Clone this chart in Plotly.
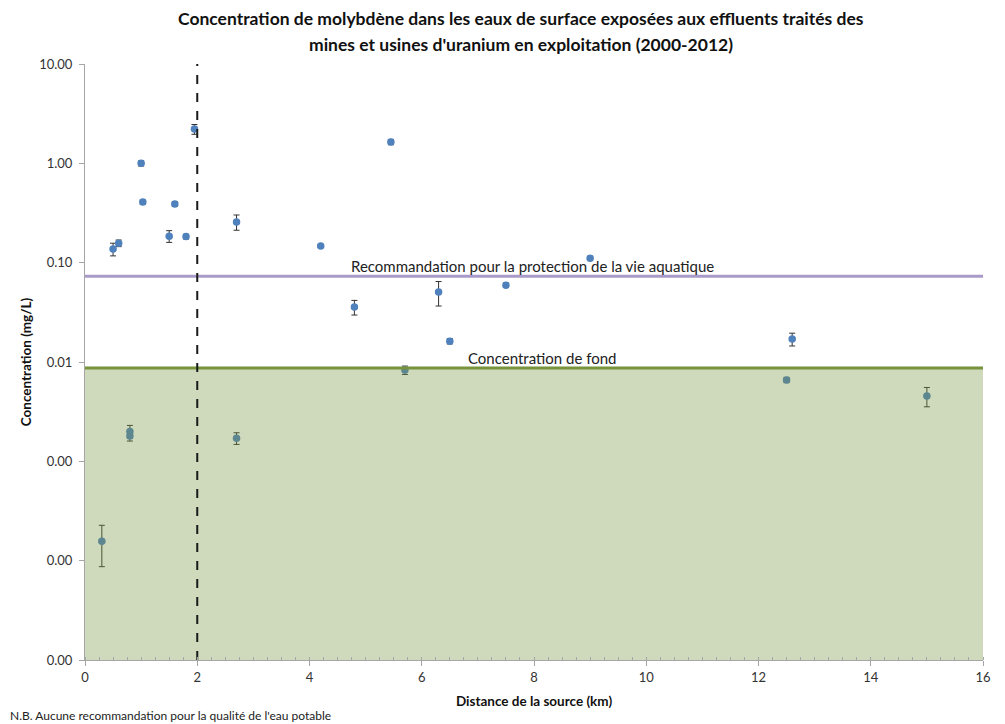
import numpy as np
import plotly.graph_objects as go

# Data
distance_km = [0.3, 0.5, 0.6, 0.8, 0.8, 1.0, 1.03, 1.5, 1.6, 1.8, 1.95, 2.7, 2.7,
               4.2, 4.8, 5.45, 5.7, 6.3, 6.5, 7.5, 9.0, 12.5, 12.6, 15.0]
concentration = [0.000157, 0.137, 0.157, 0.0020, 0.0018, 1.0, 0.407, 0.185, 0.39,
                 0.183, 2.21, 0.257, 0.00171, 0.147, 0.0357, 1.64, 0.0083, 0.0506,
                 0.0162, 0.0594, 0.111, 0.0066, 0.017, 0.00454]
error = [0.00007, 0.02, 0.012, 0.0003, 0.0002, 0.06, 0.02, 0.025, 0.02, 0.01, 0.25,
         0.045, 0.00023, 0.005, 0.006, 0.1, 0.0008, 0.014, 0.001, 0.003, 0.005,
         0.0004, 0.0025, 0.001]

guideline_aquatic = 0.073
background_conc = 0.0087
x_limits = [0, 16]
y_limits = [0.00001, 10]
distance_cutoff = 2

y_tickvals = [10, 1, 0.1, 0.01, 0.001, 0.0001, 0.00001]
y_ticktext = ["10.00", "1.00", "0.10", "0.01", "0.00", "0.00", "0.00"]
x_tickvals = [0, 2, 4, 6, 8, 10, 12, 14, 16]

title_lines = ["Concentration de molybdène dans les eaux de surface exposées aux effluents traités des",
               "mines et usines d'uranium en exploitation (2000-2012)"]

FONT = "Lato, 'Open Sans', sans-serif"

fig = go.Figure()

fig.add_trace(go.Scatter(
    x=distance_km, y=concentration, mode="markers",
    marker=dict(color="#4F81BD", size=7.5),
    error_y=dict(type="data", array=error, visible=True, color="#333333",
                 thickness=1, width=3),
    showlegend=False, hoverinfo="x+y"))

# shaded background region (drawn over the points to tint them)
fig.add_trace(go.Scatter(
    x=[x_limits[0], x_limits[1], x_limits[1], x_limits[0]],
    y=[y_limits[0], y_limits[0], background_conc, background_conc],
    fill="toself", fillcolor="rgba(118,146,60,0.35)", mode="none",
    showlegend=False, hoverinfo="skip"))

fig.add_trace(go.Scatter(
    x=x_limits, y=[guideline_aquatic, guideline_aquatic], mode="lines",
    line=dict(color="#A99BC9", width=3), showlegend=False, hoverinfo="skip"))

fig.add_trace(go.Scatter(
    x=x_limits, y=[background_conc, background_conc], mode="lines",
    line=dict(color="#77933C", width=3), showlegend=False, hoverinfo="skip"))

fig.add_trace(go.Scatter(
    x=[distance_cutoff, distance_cutoff], y=y_limits, mode="lines",
    line=dict(color="#1a1a1a", width=2, dash="dash"), showlegend=False,
    hoverinfo="skip"))

fig.add_annotation(x=7.98, y=np.log10(guideline_aquatic), xref="x", yref="y",
                   text="Recommandation pour la protection de la vie aquatique",
                   showarrow=False, yanchor="bottom", yshift=-1,
                   font=dict(family=FONT, size=15, color="#222222"))
fig.add_annotation(x=8.15, y=np.log10(background_conc), xref="x", yref="y",
                   text="Concentration de fond",
                   showarrow=False, yanchor="bottom", yshift=-1,
                   font=dict(family=FONT, size=15, color="#222222"))
fig.add_annotation(x=0, y=0, xref="paper", yref="paper", xanchor="left",
                   yanchor="top", xshift=-77, yshift=-46,
                   text="N.B. Aucune recommandation pour la qualité de l'eau potable",
                   showarrow=False, font=dict(family=FONT, size=12, color="#222222"))

# title as two lines placed explicitly
for line, shift in zip(title_lines, [46, 20]):
    fig.add_annotation(x=0.486, y=1, xref="paper", yref="paper", xanchor="center",
                       yanchor="middle", yshift=shift, text="<b>" + line + "</b>",
                       showarrow=False,
                       font=dict(family=FONT, size=17.5, color="#111111"))

fig.update_layout(
    width=997, height=716,
    margin=dict(l=77, r=22, t=56, b=64),
    paper_bgcolor="white", plot_bgcolor="white",
    font=dict(family=FONT, color="#333333"),
)

fig.update_xaxes(
    range=x_limits, tickvals=x_tickvals, showgrid=False, zeroline=False,
    showline=True, linecolor="#A6A6A6", linewidth=1,
    ticks="outside", ticklen=5, tickcolor="#A6A6A6",
    minor=dict(dtick=0.25, ticks="inside", ticklen=3, tickcolor="#A6A6A6"),
    tickfont=dict(family=FONT, size=13, color="#333333"),
    title=dict(text="<b>Distance de la source (km)</b>", standoff=12,
               font=dict(family=FONT, size=13.5, color="#111111")))

fig.update_yaxes(
    type="log", range=[np.log10(y_limits[0]), np.log10(y_limits[1])],
    tickvals=y_tickvals, ticktext=y_ticktext, showgrid=False, zeroline=False,
    showline=True, linecolor="#A6A6A6", linewidth=1,
    ticks="outside", ticklen=5, tickcolor="#A6A6A6", ticklabelstandoff=4,
    tickfont=dict(family=FONT, size=13, color="#333333"),
    title=dict(text="<b>Concentration (mg/L)</b>", standoff=4,
               font=dict(family=FONT, size=13.5, color="#111111")))

fig.write_html("out.html")
